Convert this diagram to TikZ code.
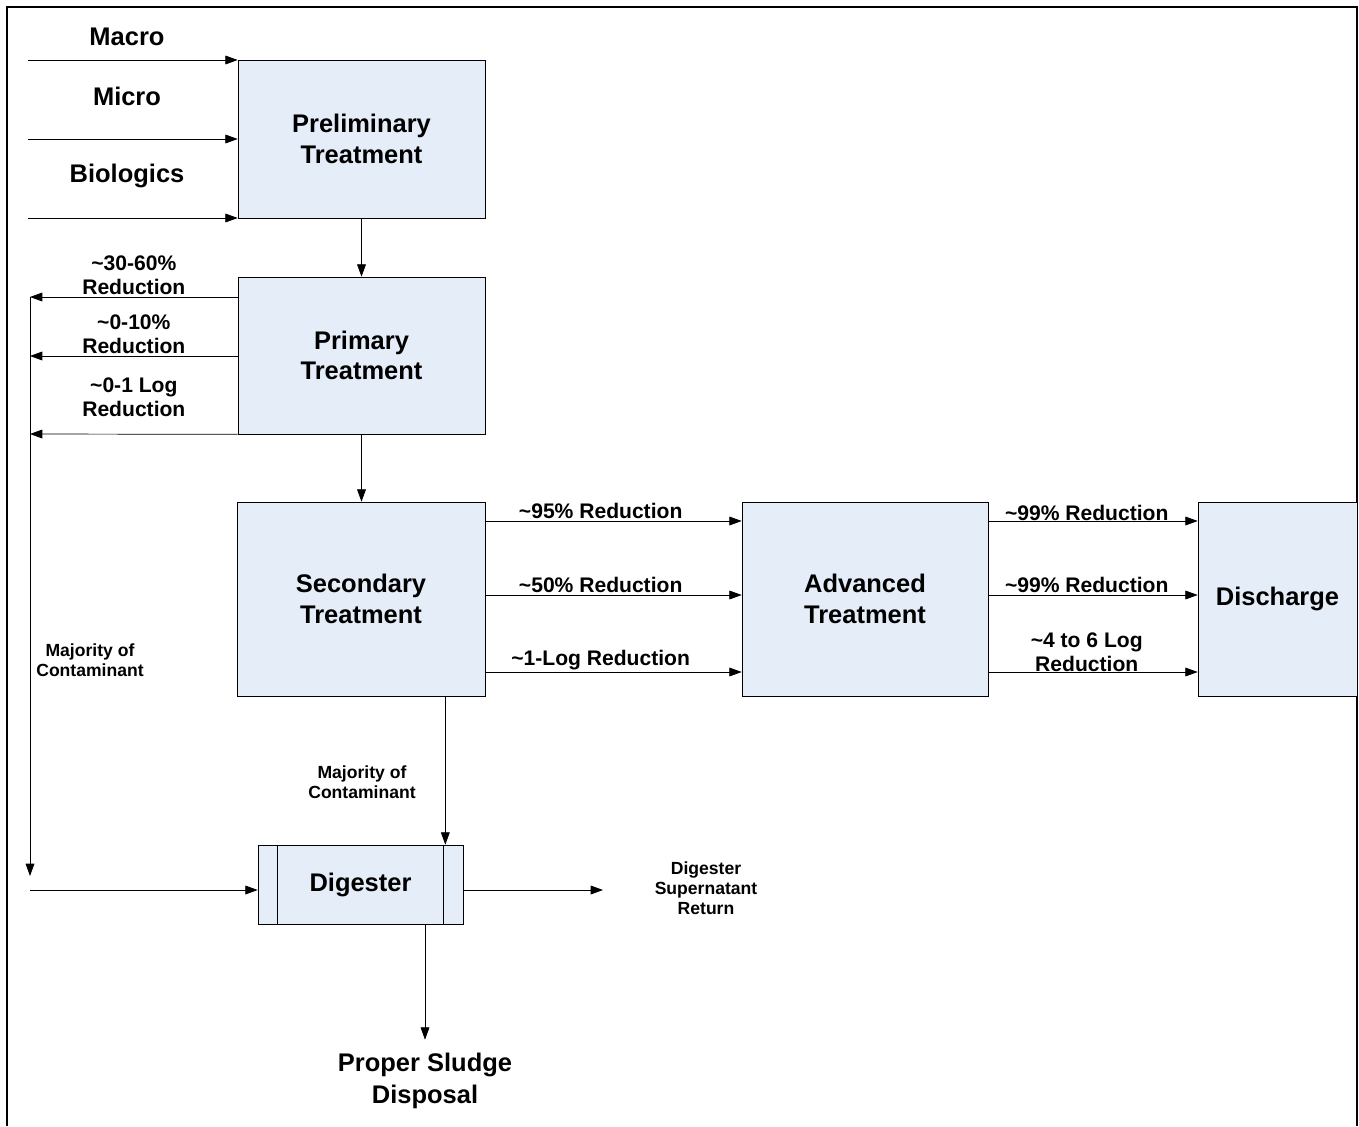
\documentclass[tikz,border=0pt]{standalone}
\usepackage{fontspec}
\setmainfont{Liberation Sans}
\usetikzlibrary{positioning, arrows.meta, calc}
\definecolor{stageblue}{RGB}{229,237,248}
\tikzset{
->, % every connector is directed
>={Triangle[length=7pt, width=5pt]}, % filled heads
line width=0.85pt,
stage/.style={draw, fill=stageblue, align=center, inner sep=0pt, font=\bfseries\fontsize{14.5}{17.5}\selectfont}, % process boxes
inlabel/.style={align=center, font=\bfseries\fontsize{14.5}{18.5}\selectfont}, % big free texts
flow/.style={align=center, inner sep=1pt, font=\bfseries\fontsize{12}{13.6}\selectfont}, % reduction labels
note/.style={align=center, inner sep=0pt, font=\bfseries\fontsize{10}{11.5}\selectfont}, % small notes
}

\begin{document}
\begin{tikzpicture}[x=0.02cm, y=-0.02cm]
        \useasboundingbox (0,0) rectangle (1359,1126);
        \draw[-, line width=1.5pt] (7,1126) -- (7,7) -- (1357,7) -- (1357,1126);

        % stages
        \node[stage, minimum width=4.94cm, minimum height=3.16cm] (preliminary) at (361.5, 139) {Preliminary\\Treatment};
        \node[stage, minimum width=4.94cm, minimum height=3.14cm] (primary) at (361.5, 355.5) {Primary\\Treatment};
        \node[stage, minimum width=4.96cm, minimum height=3.88cm] (secondary) at (361, 599) {Secondary\\Treatment};
        \node[stage, minimum width=4.92cm, minimum height=3.88cm] (advanced) at (865, 599) {Advanced\\Treatment};
        \node[stage, minimum width=3.18cm, minimum height=3.88cm] (discharge) at (1277.5, 599) {Discharge};
        \node[stage, minimum width=4.10cm, minimum height=1.58cm] (digester) at (360.5, 884.5) {Digester};
        \draw[-] ([xshift=0.4cm]digester.north west) -- ([xshift=0.4cm]digester.south west);
        \draw[-] ([xshift=-0.4cm]digester.north east) -- ([xshift=-0.4cm]digester.south east);

        % inputs
        \node[inlabel] (macro) at (127, 37) {Macro};
        \node[inlabel] (micro) at (127, 96) {Micro};
        \node[inlabel] (biologics) at (127, 176) {Biologics};
        \coordinate (macro-in) at (28, 60);
        \coordinate (micro-in) at (28, 139);
        \coordinate (bio-in) at (28, 218);
        \draw (macro-in) -- (macro-in -| preliminary.west);
        \draw (micro-in) -- (micro-in -| preliminary.west);
        \draw (bio-in) -- (bio-in -| preliminary.west);

        \draw (preliminary) -- (primary);
        \draw (primary.south) -- (primary.south |- secondary.north);

        % removed at primary
        \coordinate (bus-top) at (30, 297);
        \coordinate (bus-mid) at (30, 356);
        \coordinate (bus-low) at (30, 434);
        \coordinate (bus-corner) at (30, 890);
        \draw (bus-top -| primary.west) -- node[flow, above]{\textasciitilde30-60\%\\Reduction} (bus-top);
        \draw (bus-mid -| primary.west) -- node[flow, above]{\textasciitilde0-10\%\\Reduction} (bus-mid);
        \draw (primary.south west) -- node[flow, above, yshift=0.3cm]{\textasciitilde0-1 Log\\Reduction} (bus-low);
        \draw[shorten >=8pt] (bus-top) -- (bus-corner);
        \draw (bus-corner) -- (bus-corner -| digester.west);
        \node[note] (majority-left) at (90, 660) {Majority of\\Contaminant};

        % secondary to advanced to discharge
        \coordinate (row-a) at (0, 521);
        \coordinate (row-b) at (0, 595);
        \coordinate (row-c) at (0, 672);
        \draw (secondary.east |- row-a) -- node[flow, above, pos=0.45]{\textasciitilde95\% Reduction} (advanced.west |- row-a);
        \draw (secondary.east |- row-b) -- node[flow, above, pos=0.45]{\textasciitilde50\% Reduction} (advanced.west |- row-b);
        \draw (secondary.east |- row-c) -- node[flow, above, pos=0.45]{\textasciitilde1-Log Reduction} (advanced.west |- row-c);
        \draw (advanced.east |- row-a) -- node[flow, above, pos=0.47, inner sep=0pt]{\textasciitilde99\% Reduction} (discharge.west |- row-a);
        \draw (advanced.east |- row-b) -- node[flow, above, pos=0.47]{\textasciitilde99\% Reduction} (discharge.west |- row-b);
        \draw (advanced.east |- row-c) -- node[flow, above, pos=0.47, inner sep=0pt]{\textasciitilde4 to 6 Log\\Reduction} (discharge.west |- row-c);

        % sludge line
        \coordinate (sludge-top) at ($(secondary.south east)+(-40,0)$);
        \draw (sludge-top) -- (sludge-top |- digester.north);
        \node[note] (majority-mid) at (362, 782) {Majority of\\Contaminant};

        \node[inlabel] (disposal) at (425, 1081) {Proper Sludge\\Disposal};
        \draw[shorten >=4pt] (digester.south -| disposal.north) -- (disposal.north);

        \coordinate (return-end) at (603, 890);
        \draw (digester.east |- return-end) -- (return-end);
        \node[note] (return) at (706, 888) {Digester\\Supernatant\\Return};
\end{tikzpicture}
\end{document}
